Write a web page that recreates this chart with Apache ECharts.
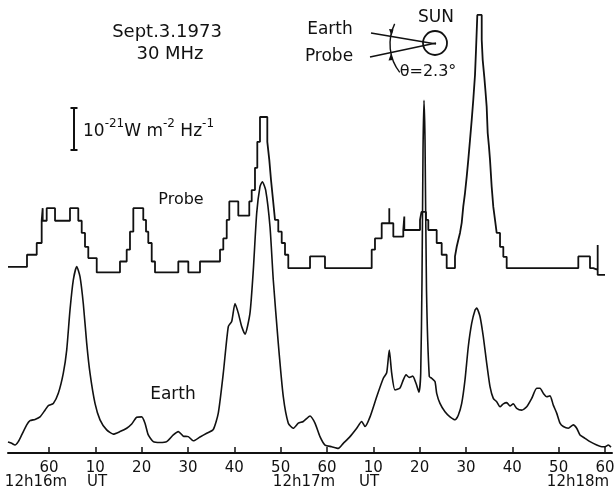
<!DOCTYPE html>
<html>
<head>
<meta charset="utf-8">
<script src="https://cdn.jsdelivr.net/npm/echarts@6/dist/echarts.min.js"></script>
<style>html,body{margin:0;padding:0;background:#fff}#c{width:614px;height:497px}</style>
</head>
<body>
<div id="c"></div>
<script>
// Time in seconds after 12h16m00s UT; flux in units of 1e-21 W m^-2 Hz^-1 (scale bar)
const earthTime = [-8.85,-8.05,-7.34,-6.63,-5.89,-4.81,-4.10,-3.02,-1.94,-0.86,
  -0.15,0.93,2.01,3.09,3.82,4.53,5.25,5.98,6.69,7.40,
  8.14,8.85,9.93,11.01,12.45,13.88,15.32,16.77,17.85,18.93,
  20.01,20.72,21.43,22.51,23.96,25.40,26.83,27.91,28.99,30.07,
  31.15,32.59,34.04,35.46,36.54,37.62,38.70,39.43,40.15,40.86,
  41.59,42.31,43.38,44.10,44.83,45.54,46.04,46.77,47.70,48.41,
  49.49,50.57,51.65,52.73,53.81,54.89,56.34,57.41,58.49,59.57,
  61.02,62.44,63.52,64.97,66.42,67.49,68.21,69.29,70.73,72.16,
  72.89,73.45,73.97,74.68,75.76,76.47,77.06,77.77,78.50,79.21,
  79.86,80.23,80.51,80.73,80.94,81.16,81.48,82.08,82.60,83.31,
  83.68,84.39,85.47,86.55,87.63,88.34,89.08,89.79,90.50,91.24,
  91.95,92.32,93.03,93.74,94.47,95.19,95.90,96.63,97.35,98.06,
  98.79,99.50,100.22,100.95,102.03,103.11,104.19,105.27,105.98,106.69,
  107.43,108.14,108.85,109.58,110.30,111.01,112.09,113.17,113.90,114.61,
  115.69,116.77,118.22,119.30,120.01,120.72,121.30];
const earthFlux = [0.26,0.23,0.19,0.27,0.43,0.67,0.77,0.80,0.86,1.02,
  1.13,1.18,1.42,1.90,2.45,3.40,4.12,4.44,4.20,3.56,
  2.61,1.90,1.18,0.79,0.55,0.45,0.51,0.59,0.69,0.85,
  0.86,0.71,0.43,0.27,0.25,0.27,0.43,0.51,0.40,0.39,
  0.29,0.38,0.47,0.56,0.95,1.90,3.01,3.13,3.56,3.33,
  3.01,2.83,3.33,4.36,5.71,6.34,6.46,6.26,5.39,4.12,
  2.61,1.34,0.71,0.59,0.71,0.75,0.88,0.71,0.39,0.19,
  0.15,0.11,0.23,0.39,0.59,0.75,0.63,0.86,1.34,1.78,
  1.91,2.45,1.90,1.50,1.55,1.74,1.86,1.80,1.83,1.66,
  1.45,1.90,4.12,7.21,8.40,7.45,3.88,1.82,1.78,1.70,
  1.42,1.18,0.98,0.86,0.79,0.90,1.18,1.74,2.53,3.09,
  3.40,3.45,3.25,2.77,2.14,1.58,1.30,1.22,1.10,1.17,
  1.20,1.12,1.17,1.06,1.02,1.10,1.30,1.54,1.54,1.42,
  1.34,1.36,1.14,0.95,0.71,0.63,0.59,0.67,0.59,0.43,
  0.35,0.27,0.19,0.15,0.15,0.19,0.14];

// Probe: quantised (stepped) record, value holds from each time until the next
const probeTime = [-8.85,-4.75,-2.65,-1.58,-1.36,-1.36,-0.50,1.30,4.53,6.32,
  7.06,7.77,8.48,10.30,15.32,16.77,17.48,18.20,20.35,20.94,
  21.43,22.17,22.88,27.91,30.07,32.59,36.91,37.62,38.36,38.92,
  40.86,43.23,43.75,44.46,44.96,45.54,47.12,47.55,47.92,48.35,
  48.78,49.49,50.23,50.94,51.65,56.34,59.57,69.65,70.36,71.81,
  73.45,73.45,74.32,76.47,76.69,76.69,80.08,80.40,81.37,81.87,
  83.68,84.76,85.84,87.63,88.00,88.34,88.71,89.08,89.42,89.79,
  90.16,90.50,90.87,91.24,91.58,91.95,92.17,92.45,93.40,93.61,
  93.96,94.22,94.47,94.69,94.97,95.19,95.55,95.90,96.27,96.63,
  97.35,98.06,98.79,114.25,116.77,117.48,118.43,118.43,120.01];
const probeFlux = [0.13,0.42,0.70,1.23,1.53,1.23,1.53,1.23,1.53,1.23,
  0.94,0.61,0.34,0,0.26,0.54,0.97,1.53,1.25,0.97,
  0.70,0.26,0,0.26,0,0.26,0.54,0.81,1.25,1.69,
  1.35,1.69,1.96,2.49,3.11,3.70,3.11,2.68,2.20,1.73,
  1.25,0.97,0.70,0.42,0.10,0.38,0.10,0.54,0.81,1.17,
  1.53,1.17,0.85,1.01,1.33,1.01,1.25,1.44,1.25,1.01,
  0.70,0.42,0.10,0.38,0.61,0.77,0.94,1.18,1.57,1.89,
  2.28,2.68,3.15,3.63,4.11,4.70,5.30,6.13,5.54,5.06,
  4.65,4.30,3.94,3.32,2.99,2.68,2.04,1.56,1.25,0.94,
  0.61,0.37,0.10,0.38,0.10,0.06,0.65,-0.06,-0.06];

const tickSeconds = [0,10,20,30,40,50,60,70,80,90,100,110,120];
const tickLabels = ['60','10','20','30','40','50','60','10','20','30','40','50','60'];

// display offset of the probe record above the Earth record
const PROBE_OFFSET = 4.30;

const FONT = 'DejaVu Sans';
const INK = '#111';

const earthData = earthTime.map((t, i) => [t, earthFlux[i]]);
const probeData = probeTime.map((t, i) => [t, probeFlux[i] + PROBE_OFFSET]);

const chart = echarts.init(document.getElementById('c'), null, {renderer: 'canvas'});

function txt(x, y, s, size, extra) {
  return Object.assign({
    type: 'text', x: x, y: y,
    style: {text: s, font: size + 'px "' + FONT + '"', fill: INK, align: 'center', verticalAlign: 'middle'}
  }, extra || {});
}

const cx = 435, cy = 43;
const deg = Math.PI / 180;

chart.setOption({
  animation: false,
  backgroundColor: '#fff',
  grid: {left: 8, right: 2, top: 0, bottom: 44, containLabel: false, outerBoundsMode: 'none'},
  xAxis: {
    type: 'value', min: -8.85, max: 121.52,
    axisLine: {show: true, lineStyle: {color: INK, width: 2}},
    axisTick: {show: true, inside: true, length: 6, lineStyle: {color: INK, width: 1.5}, customValues: tickSeconds},
    axisLabel: {
      show: true, customValues: tickSeconds, margin: 8,
      color: INK, fontFamily: FONT, fontSize: 15,
      formatter: v => tickLabels[tickSeconds.indexOf(Math.round(v))] || ''
    },
    splitLine: {show: false}
  },
  yAxis: {
    type: 'value', min: 0, max: 453 / 42,
    show: false, splitLine: {show: false}
  },
  series: [
    {
      name: 'Earth', type: 'line', data: earthData, showSymbol: false, smooth: 0.2,
      lineStyle: {color: INK, width: 1.6}, z: 3
    },
    {
      name: 'Probe', type: 'line', data: probeData, showSymbol: false, step: 'end',
      lineStyle: {color: INK, width: 1.8}, z: 4
    }
  ],
  graphic: [
    txt(167, 32, 'Sept.3.1973', 18),
    txt(170, 54, '30 MHz', 18),
    // scale bar
    {type: 'line', shape: {x1: 74, y1: 108, x2: 74, y2: 150}, style: {stroke: INK, lineWidth: 2}},
    {type: 'line', shape: {x1: 70.5, y1: 108, x2: 77.5, y2: 108}, style: {stroke: INK, lineWidth: 2}},
    {type: 'line', shape: {x1: 70.5, y1: 150, x2: 77.5, y2: 150}, style: {stroke: INK, lineWidth: 2}},
    {
      type: 'text', x: 83, y: 129,
      style: {
        text: '{b|10}{s|-21}{b|W m}{s|-2}{b| Hz}{s|-1}',
        fill: INK, align: 'left', verticalAlign: 'middle',
        rich: {
          b: {font: '17px "' + FONT + '"', fill: INK, lineHeight: 22, verticalAlign: 'bottom'},
          s: {font: '12px "' + FONT + '"', fill: INK, lineHeight: 12, verticalAlign: 'top'}
        }
      }
    },
    txt(181, 200, 'Probe', 16),
    txt(173, 395, 'Earth', 17),
    // geometry sketch
    txt(330, 30, 'Earth', 17),
    txt(329, 57, 'Probe', 17),
    txt(436, 18, 'SUN', 17),
    {type: 'circle', shape: {cx: cx, cy: cy, r: 12}, style: {stroke: INK, fill: 'none', lineWidth: 1.8}},
    {type: 'line', shape: {x1: 371, y1: 33, x2: cx + 1, y2: cy + 1}, style: {stroke: INK, lineWidth: 1.6}},
    {type: 'line', shape: {x1: 370, y1: 57, x2: cx + 1, y2: cy}, style: {stroke: INK, lineWidth: 1.6}},
    {type: 'arc', shape: {cx: cx + 1, cy: cy + 1, r: 46, startAngle: 142 * deg, endAngle: 206 * deg, clockwise: true},
      style: {stroke: INK, fill: 'none', lineWidth: 1.4}},
    {type: 'polygon', shape: {points: [[391.5, 36], [389, 29], [393.5, 29.5]]}, style: {fill: INK}},
    {type: 'polygon', shape: {points: [[391, 53.5], [388.5, 60.5], [393, 60]]}, style: {fill: INK}},
    txt(428, 72, 'θ=2.3°', 16),
    // time annotations under the axis
    txt(36, 482, '12h16m', 15),
    txt(97, 482, 'UT', 15),
    txt(304, 482, '12h17m', 15),
    txt(369, 482, 'UT', 15),
    txt(578, 482, '12h18m', 15)
  ]
});
</script>
</body>
</html>
